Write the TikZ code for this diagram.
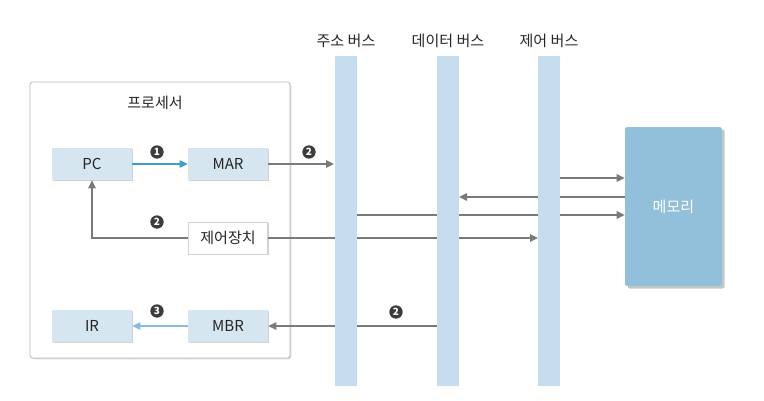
\documentclass[tikz,border=0pt]{standalone}
\usepackage{fontspec}
\setmainfont{Noto Sans CJK KR}
\usetikzlibrary{shadows,arrows.meta}
\definecolor{boxfill}{HTML}{D6E6F1}
\definecolor{busfill}{HTML}{C5DDEC}
\definecolor{memfill}{HTML}{92BFDA}
\definecolor{linegray}{HTML}{7A7A7A}
\definecolor{txt}{HTML}{262626}
\definecolor{blueA}{HTML}{3A9FCB}
\definecolor{blueB}{HTML}{86BCDC}
\definecolor{numfill}{HTML}{3C3C3C}
\tikzset{
  reg/.style={draw=none, fill=boxfill, minimum width=60pt, minimum height=24pt, inner sep=0pt,
    drop shadow={shadow xshift=1pt, shadow yshift=-1pt, opacity=0.35, fill=gray}, text=txt, font=\fontsize{11.3}{13}\selectfont},
  ctrl/.style={reg, fill=white, draw=gray!35, line width=0.4pt},
  bus/.style={fill=busfill, draw=none},
  conn/.style={draw=linegray, line width=1.1pt, -{Triangle[length=6pt,width=5.5pt]}},
  num/.style={circle, fill=numfill, text=white, inner sep=0pt, minimum size=10pt, font=\fontsize{7.5}{7.5}\bfseries\selectfont},
  lbl/.style={text=txt, font=\fontsize{11.3}{13}\selectfont}
}
\begin{document}
\begin{tikzpicture}[x=0.75pt,y=-0.75pt]
\useasboundingbox (0,0) rectangle (764,400);
% processor
\node[draw=gray!55, line width=0.6pt, rounded corners=2pt, fill=white,
  drop shadow={shadow xshift=1pt, shadow yshift=-1pt, opacity=0.3, fill=gray},
  minimum width=195pt, minimum height=207pt, inner sep=0pt] (proc) at (160,220) {};
\node[lbl] (proct) at (155,103) {프로세서};
\node[reg] (pc) at (92,164) {PC};
\node[reg] (mar) at (228,164) {MAR};
\node[ctrl, minimum width=59pt] (cu) at (228,238) {제어장치};
\node[reg] (ir) at (92,326) {IR};
\node[reg] (mbr) at (228,326) {MBR};
% memory
\node[fill=memfill, rounded corners=1.5pt, minimum width=72.75pt, minimum height=119pt, inner sep=0pt,
  drop shadow={shadow xshift=2pt, shadow yshift=-2pt, opacity=0.45, fill=gray},
  text=white, font=\fontsize{11.3}{13}\selectfont] (mem) at (673.5,206.5) {메모리};
% bus labels
\node[lbl] (abl) at (346,41) {주소 버스};
\node[lbl] (dbl) at (448,41) {데이터 버스};
\node[lbl] (cbl) at (549,41) {제어 버스};
% connectors (under the buses)
\coordinate (cuend) at (538,238);
\draw[conn] (cu.east) -- (cuend);
\coordinate (a1) at (357,215);
\draw[conn] (a1) -- (mem.west |- a1);
\coordinate (d1) at (459,197);
\draw[conn] (mem.west |- d1) -- (d1);
\coordinate (c1) at (560,178);
\draw[conn] (c1) -- (mem.west |- c1);
\coordinate (d2) at (437,326);
\draw[conn] (d2) -- (mbr.east);
\coordinate (a2) at (334,164);
\draw[conn] (mar.east) -- (a2);
% buses
\fill[bus] (335,56) rectangle (357,386);
\fill[bus] (437,56) rectangle (459,386);
\fill[bus] (538,56) rectangle (560,386);
% internal arrows
\draw[conn, draw=blueA, line width=1pt] (pc.east) -- (mar.west);
\draw[conn, draw=blueB, line width=1pt] (mbr.west) -- (ir.east);
\draw[conn] (cu.west) -- (92,238) -- (pc.south);
% numbers
\node[num] (n1) at (157,152) {1};
\node[num] (n2a) at (309,152) {2};
\node[num] (n2b) at (157,222) {2};
\node[num] (n2c) at (396,312) {2};
\node[num] (n3) at (157,311) {3};
\end{tikzpicture}
\end{document}
